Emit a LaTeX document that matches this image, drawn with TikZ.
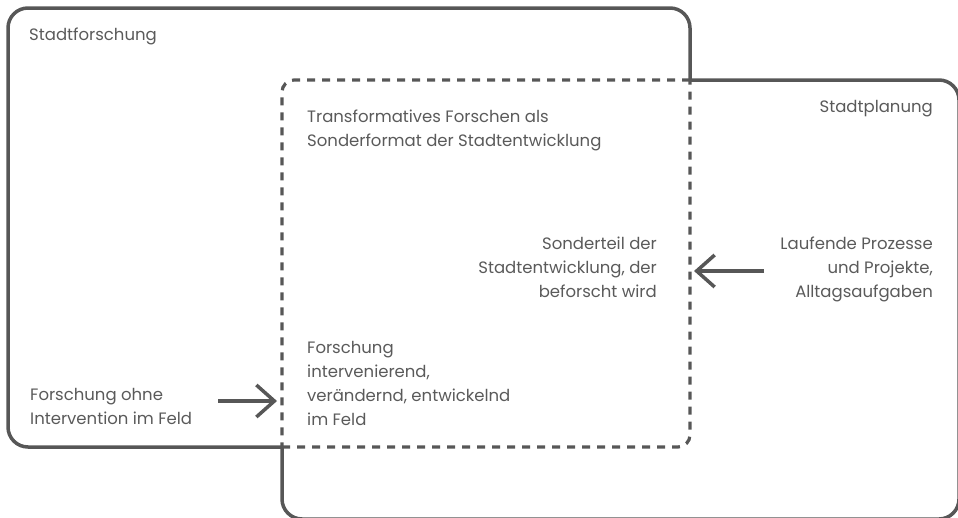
\documentclass[tikz,border=0pt]{standalone}
\usepackage{fontspec}
\setmainfont{Poppins}
\usetikzlibrary{arrows.meta,positioning}
\definecolor{strokegray}{HTML}{575757}
\definecolor{textgray}{HTML}{5A5A5A}

\begin{document}
\begin{tikzpicture}[x=1pt, y=-1pt,
    region/.style={draw=strokegray, line width=3.5pt, rounded corners=20pt},
    overlap/.style={draw=strokegray, line width=3.2pt, dash pattern=on 8pt off 7pt, rounded corners=12pt},
    label/.style={inner sep=0pt, text=textgray, font=\fontsize{16.5}{24}\selectfont},
    arrow/.style={-{Straight Barb[length=18pt, width=32pt]}, draw=strokegray, line width=3.5pt}
]
    \useasboundingbox (0,0) rectangle (958,517);
    \clip (0,0) rectangle (958,517);

    % Stadtforschung (solid part)
    \draw[region] (282,447) -- (8,447) -- (8,8) -- (690,8) -- (690,80);
    % Stadtplanung (solid part)
    \draw[region] (690,80) -- (959,80) -- (959,519) -- (282,519) -- (282,447);
    % Overlap (dashed)
    \draw[overlap] (690,80) -- (282,80) -- (282,447);
    \draw[overlap] (282,447) -- (690,447) -- (690,80);

    % Labels (base = baseline of the last line)
    \node[label, anchor=base west] (forschung) at (29,40) {Stadtforschung};
    \node[label, anchor=base east] (planung) at (933,112) {Stadtplanung};
    \node[label, anchor=base west, align=left] (format) at (307,146)
        {Transformatives Forschen als\\Sonderformat der Stadtentwicklung};
    \node[label, anchor=base east, align=right] (sonderteil) at (657,297)
        {Sonderteil der\\Stadtentwicklung, der\\beforscht wird};
    \node[label, anchor=base east, align=right] (laufend) at (933,297)
        {Laufende Prozesse\\und Projekte,\\Alltagsaufgaben};
    \node[label, anchor=base west, align=left] (interv) at (307,425)
        {Forschung\\intervenierend,\\verändernd, entwickelnd\\im Feld};
    \node[label, anchor=base west, align=left] (ohne) at (30,424)
        {Forschung ohne\\Intervention im Feld};

    % Arrows
    \coordinate (ohnetail) at (218,401);
    \coordinate (ohnetip) at (277,401);
    \coordinate (laufendtail) at (764,271);
    \coordinate (laufendtip) at (694,271);
    \draw[arrow] (ohnetail) -- (ohnetip);
    \draw[arrow] (laufendtail) -- (laufendtip);
\end{tikzpicture}
\end{document}
